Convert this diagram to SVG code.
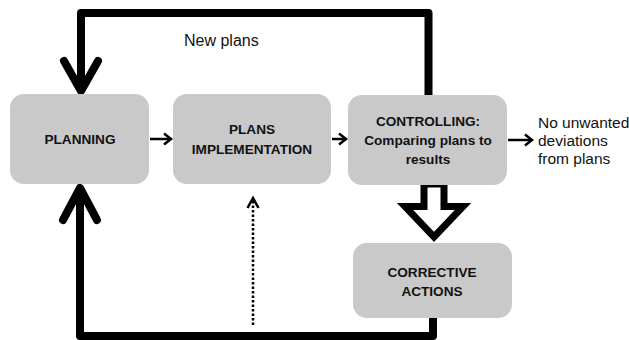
<svg xmlns="http://www.w3.org/2000/svg" width="629" height="340" viewBox="0 0 629 340">
<style>
.box{fill:#c9c9c9;}
.b{font-family:"Liberation Sans",Arial,sans-serif;font-weight:bold;font-size:13.6px;fill:#111;text-anchor:middle;}
.r{font-family:"Liberation Sans",Arial,sans-serif;font-size:15.5px;fill:#111;}
.thick{fill:none;stroke:#000;stroke-width:8;stroke-linejoin:round;}
.chev{fill:none;stroke:#000;stroke-width:8;stroke-linecap:round;stroke-linejoin:round;}
.thin{fill:none;stroke:#000;stroke-width:2.5;}
.thinhead{fill:none;stroke:#000;stroke-width:2.5;stroke-linejoin:miter;}
</style>
<rect width="629" height="340" fill="#fff"/>
<g id="connectors">
  <path class="thick" d="M81,88 V13 H428.5 V95"/>
  <path class="chev" d="M64,61 L81,91 L98,61"/>
  <path class="thick" d="M80,190 V336 H433 V318"/>
  <path class="chev" d="M63,220 L80,188 L97,220"/>
  <path class="thin" d="M150,139 H170"/>
  <path class="thinhead" d="M164,133.5 L171,139 L164,144.5"/>
  <path class="thin" d="M332,139 H345"/>
  <path class="thinhead" d="M339,133.5 L346,139 L339,144.5"/>
  <path class="thin" d="M508,140 H531"/>
  <path class="thinhead" d="M525,134.5 L532,140 L525,145.5"/>
  <path fill="none" stroke="#000" stroke-width="2.5" stroke-dasharray="2.5,2" d="M253,325 V199"/>
  <path class="thinhead" d="M247.5,208 L253,198 L258.5,208"/>
  <polygon points="424,184 444,184 444,206.5 463,206.5 434,237 405,206.5 424,206.5" fill="#fff" stroke="#000" stroke-width="7" stroke-linejoin="miter"/>
</g>
<g id="planning">
  <rect class="box" x="10" y="94" width="139" height="90" rx="14"/>
  <text class="b" x="80" y="144">PLANNING</text>
</g>
<g id="implementation">
  <rect class="box" x="173" y="94" width="158" height="90" rx="14"/>
  <text class="b" x="252" y="134">PLANS</text>
  <text class="b" x="252" y="154">IMPLEMENTATION</text>
</g>
<g id="controlling">
  <rect class="box" x="348" y="95" width="159" height="90" rx="14"/>
  <text class="b" x="428" y="126">CONTROLLING:</text>
  <text class="b" x="428" y="145">Comparing plans to</text>
  <text class="b" x="428" y="164">results</text>
</g>
<g id="corrective">
  <rect class="box" x="353" y="243" width="159" height="75" rx="14"/>
  <text class="b" x="432" y="277">CORRECTIVE</text>
  <text class="b" x="432" y="296">ACTIONS</text>
</g>
<g id="labels">
  <text class="r" x="184" y="46" style="font-size:16px">New plans</text>
  <text class="r" x="538" y="128">No unwanted</text>
  <text class="r" x="538" y="146">deviations</text>
  <text class="r" x="538" y="164">from plans</text>
</g>
</svg>
